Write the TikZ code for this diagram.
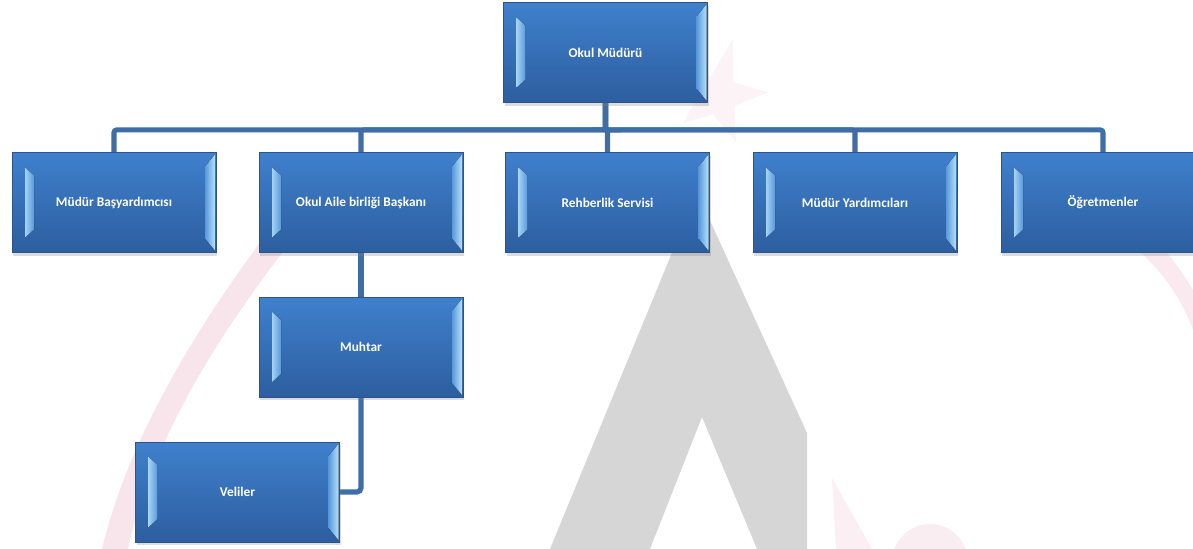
\documentclass[tikz,border=0pt]{standalone}
\usepackage{fontspec}
\setmainfont{Carlito}
\usetikzlibrary{shadows,calc}
\definecolor{boxtop}{HTML}{3F80CD}
\definecolor{boxbot}{HTML}{2D5E9F}
\definecolor{boxborder}{HTML}{2A548A}
\definecolor{bevlight}{HTML}{B4E2FF}
\definecolor{bevmid}{HTML}{5A98D8}
\definecolor{connc}{HTML}{3F6DA5}
\definecolor{wmpink}{HTML}{F6DCE5}
\definecolor{wmgrey}{HTML}{D6D6D6}
\pgfdeclarelayer{wm}
\pgfdeclarelayer{bg}
\pgfsetlayers{wm,bg,main}
\tikzset{
  orgbox/.style={draw=boxborder, line width=0.7pt,
    minimum width=153pt, minimum height=75pt, inner sep=0pt,
    top color=boxtop, bottom color=boxbot, text=white,
    font=\bfseries\fontsize{10}{12}\selectfont,
    drop shadow={opacity=0.28, shadow xshift=0.8pt, shadow yshift=-2.4pt},
    path picture={
      \coordinate (pnw) at (path picture bounding box.north west);
      \coordinate (pne) at (path picture bounding box.north east);
      \fill[left color=bevlight!80!bevmid, right color=bevmid]
        ($(pnw)+(13,-15)$) -- ($(pnw)+(22,-23)$) -- ($(pnw)+(22,-77)$) -- ($(pnw)+(13,-85)$) -- cycle;
      \fill[left color=bevmid, right color=bevlight]
        ($(pne)+(-1,-2)$) -- ($(pne)+(-11,-14)$) -- ($(pne)+(-11,-86)$) -- ($(pne)+(-1,-98)$) -- cycle;
    }},
  conn/.style={draw=connc, line width=3.8pt},
}
\begin{document}
\begin{tikzpicture}[x=0.75pt,y=0.75pt]
% watermark
\begin{pgfonlayer}{wm}
  \fill[wmgrey] (697,-192) -- (807,-433) -- (807,-549) -- (757,-549) -- (702,-417)
     -- (650,-549) -- (550,-549) -- cycle;
  \fill[wmpink, opacity=0.75] (262,-240) .. controls (195,-330) and (128,-440) .. (102,-549)
     -- (128,-549) .. controls (152,-440) and (218,-335) .. (292,-240) -- cycle;
  \fill[wmpink, opacity=0.35]
        ($(718,-95)+(75:58)$) -- ($(718,-95)+(39:20)$) -- ($(718,-95)+(3:50)$)
     -- ($(718,-95)+(-33:20)$) -- ($(718,-95)+(-69:50)$) -- ($(718,-95)+(-105:20)$)
     -- ($(718,-95)+(-141:45)$) -- ($(718,-95)+(-177:20)$) -- ($(718,-95)+(147:45)$)
     -- ($(718,-95)+(111:20)$) -- cycle;
  \fill[wmpink, opacity=0.6] (1140,-252) .. controls (1165,-275) and (1182,-300) .. (1193,-330)
     -- (1193,-290) .. controls (1184,-275) and (1175,-262) .. (1166,-252) -- cycle;
  \fill[wmpink, opacity=0.5] (930,-562) circle[radius=38];
  \fill[wmpink, opacity=0.45] (832,-478) -- (872,-549) -- (836,-549) -- cycle;
\end{pgfonlayer}
% boxes
\begin{scope}
  \clip (0,0) rectangle (1193,-549);
  \node[orgbox] (om) at (605.5,-52.5) {Okul Müdürü};
  \node[orgbox] (mb) at (114,-202.5) {Müdür Başyardımcısı};
  \node[orgbox] (oab) at (361,-202.5) {Okul Aile birliği Başkanı};
  \node[orgbox] (rs) at (607.5,-202.5) {Rehberlik Servisi};
  \node[orgbox] (my) at (855,-202.5) {Müdür Yardımcıları};
  \node[orgbox] (og) at (1103,-202.5) {Öğretmenler};
  \node[orgbox] (mu) at (361,-347) {Muhtar};
  \node[orgbox] (ve) at (237.5,-492) {Veliler};
\end{scope}
% connectors
\begin{pgfonlayer}{bg}
  \draw[conn, rounded corners=2pt] (om.south) -- ++(0,-27) -| (mb.north);
  \draw[conn, rounded corners=2pt] (om.south) -- ++(0,-27) -| (oab.north);
  \draw[conn, rounded corners=2pt] (om.south) -- ++(0,-27) -| (rs.north);
  \draw[conn, rounded corners=2pt] (om.south) -- ++(0,-27) -| (my.north);
  \draw[conn, rounded corners=2pt] (om.south) -- ++(0,-27) -| (og.north);
  \draw[conn] (oab.south) -- (mu.north);
  \draw[conn, rounded corners=3pt] (mu.south) |- (ve.east);
\end{pgfonlayer}
\pgfresetboundingbox
\useasboundingbox (0,0) rectangle (1193,-549);
\end{tikzpicture}
\end{document}
